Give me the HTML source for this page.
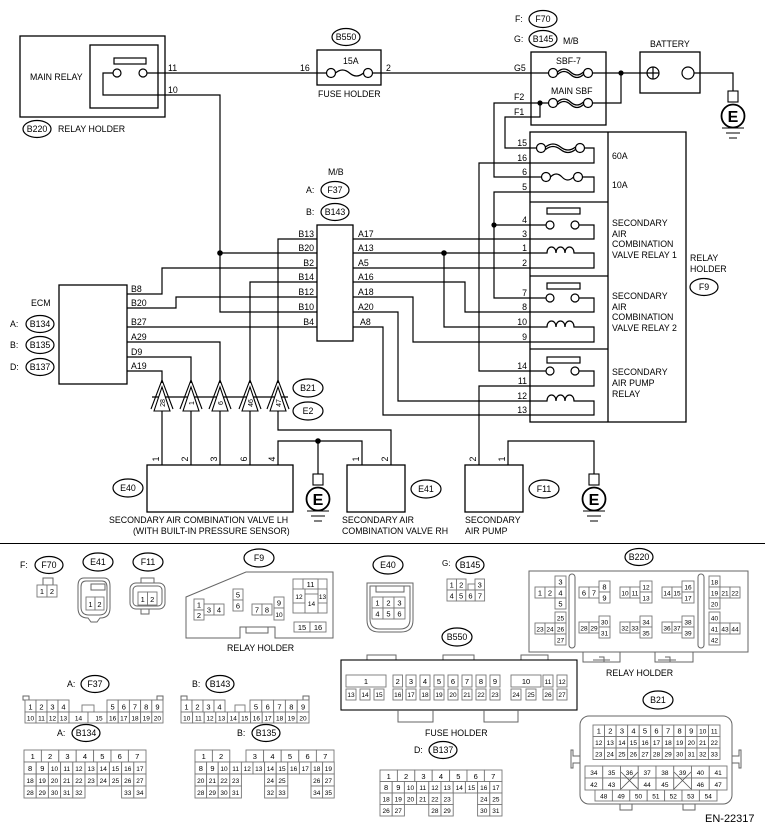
<!DOCTYPE html>
<html><head><meta charset="utf-8"><style>
html,body{margin:0;padding:0;background:#fff}
svg{display:block}
text{font-family:"Liberation Sans",Arial,sans-serif;font-size:8.8px;fill:#000}
.w{fill:none;stroke:#000;stroke-width:1.2}
.b{fill:none;stroke:#000;stroke-width:1.3}
.c{fill:#fff;stroke:#777;stroke-width:0.9}
.o{fill:none;stroke:#666;stroke-width:1}
.n{font-size:7.5px;text-anchor:middle}
.s{font-size:6.5px;text-anchor:middle}
.e{text-anchor:end}
.m{text-anchor:middle}
</style></head><body>
<svg width="765" height="830" viewBox="0 0 765 830" xmlns="http://www.w3.org/2000/svg">
<rect width="765" height="830" fill="#fff"/>
<defs>
<g id="gnd"><rect x="-5" y="0" width="10" height="11" fill="#fff" stroke="#000" stroke-width="1.1"/><circle cx="0" cy="25" r="11.5" fill="#fff" stroke="#000" stroke-width="1.8"/><path d="M-11 37H11M-7 42H7M-4 47H4" stroke="#000" stroke-width="1.1"/></g>
<g id="tri"><path d="M-8 411L0 387L8 411Z" fill="#fff" stroke="#000" stroke-width="1.1"/><path d="M-11 409L0 380L11 409" fill="none" stroke="#000" stroke-width="1.1"/></g>
</defs>

<!-- MAIN RELAY -->
<rect class="b" x="20" y="36" width="145" height="81"/>
<rect class="b" x="90" y="45" width="68" height="63"/>
<rect class="w" x="114" y="58" width="32" height="6"/>
<circle class="w" cx="117" cy="73" r="4" fill="#fff"/><circle class="w" cx="143" cy="73" r="4"/>
<text x="30" y="80">MAIN RELAY</text>
<text x="168" y="71">11</text><text x="168" y="93">10</text>
<ellipse class="w" cx="37" cy="129" rx="14" ry="8.5"/><text x="37" y="132" class="m">B220</text>
<text x="58" y="132">RELAY HOLDER</text>

<!-- fuse holder -->
<rect class="b" x="317" y="50" width="64" height="35"/>
<ellipse class="w" cx="346" cy="37" rx="14" ry="8.5"/><text x="346" y="40" class="m">B550</text>
<text x="343" y="64">15A</text><text x="300" y="71">16</text><text x="386" y="71">2</text>
<text x="318" y="97">FUSE HOLDER</text>
<circle class="w" cx="331" cy="73" r="4.5"/><circle class="w" cx="368" cy="73" r="4.5"/>
<path class="w" d="M335.5 73q7 -6 14 0t14 0"/>

<path class="w" d="M147 73H326.5M372.5 73H548.5"/>
<path class="w" d="M113 73H103V95H220V312H317"/>

<!-- M/B F70 -->
<text x="515" y="22">F:</text><ellipse class="w" cx="543" cy="19" rx="14" ry="8.5"/><text x="543" y="22" class="m">F70</text>
<text x="514" y="42">G:</text><ellipse class="w" cx="543" cy="39" rx="14" ry="8.5"/><text x="543" y="42" class="m">B145</text>
<text x="563" y="44">M/B</text>
<rect class="b" x="531" y="52" width="75" height="73"/>
<text x="556" y="64">SBF-7</text><text x="551" y="94">MAIN SBF</text>
<text x="514" y="71">G5</text><text x="514" y="100">F2</text><text x="514" y="115">F1</text>
<circle class="w" cx="553" cy="73" r="4.5"/><circle class="w" cx="588" cy="73" r="4.5"/>
<path class="w" d="M557.5 72q6.5 -6 13 0t13 0M557.5 74.5q6.5 -6 13 0t13 0"/>
<circle class="w" cx="553" cy="103" r="4.5"/><circle class="w" cx="588" cy="103" r="4.5"/>
<path class="w" d="M557.5 102q6.5 -6 13 0t13 0M557.5 104.5q6.5 -6 13 0t13 0"/>
<path class="w" d="M592.5 73H647M621 73V103H592.5"/>
<circle cx="621" cy="73" r="2.6"/><circle cx="540" cy="103" r="2.6"/>
<path class="w" d="M548.5 103H494V177H541.5M540 103V117H505V148H536.5"/>

<!-- battery -->
<text x="650" y="47">BATTERY</text>
<rect class="b" x="640" y="52" width="60" height="41"/>
<circle class="w" cx="653" cy="73" r="6"/><path class="w" d="M647 73H659M653 67V79"/>
<circle class="w" cx="688" cy="73" r="6"/>
<path class="w" d="M694 73H733V91"/>
<use href="#gnd" x="733" y="91"/><text x="733" y="122" class="m" style="font-size:16px;font-weight:bold">E</text>

<!-- relay holder -->
<rect class="b" x="530" y="132" width="156" height="290"/>
<path class="b" d="M608 132V422M530 202H608M530 276H608M530 349H608"/>
<text x="527" y="146" class="e">15</text><text x="527" y="161" class="e">16</text><text x="527" y="175" class="e">6</text><text x="527" y="190" class="e">5</text>
<text x="527" y="223" class="e">4</text><text x="527" y="237" class="e">3</text><text x="527" y="251" class="e">1</text><text x="527" y="266" class="e">2</text>
<text x="527" y="296" class="e">7</text><text x="527" y="310" class="e">8</text><text x="527" y="325" class="e">10</text><text x="527" y="340" class="e">9</text>
<text x="527" y="369" class="e">14</text><text x="527" y="384" class="e">11</text><text x="527" y="399" class="e">12</text><text x="527" y="413" class="e">13</text>
<circle class="w" cx="541" cy="148" r="4.5"/><circle class="w" cx="580" cy="148" r="4.5"/>
<path class="w" d="M545.5 147q7.5 -6 15 0t15 0M545.5 149.5q7.5 -6 15 0t15 0"/>
<path class="w" d="M584.5 148H594V163H479V371H546"/>
<circle class="w" cx="546" cy="177" r="4.5"/><circle class="w" cx="578" cy="177" r="4.5"/>
<path class="w" d="M550.5 177q5.75 -6 11.5 0t11.5 0"/>
<path class="w" d="M582.5 177H594V192H494V298H546"/>
<circle cx="494" cy="225" r="2.6"/>
<path class="w" d="M494 225H546"/>
<text x="612" y="159">60A</text><text x="612" y="188">10A</text>
<rect class="w" x="547" y="208" width="33" height="6"/>
<circle class="w" cx="550" cy="225" r="4"/><circle class="w" cx="575" cy="225" r="4"/>
<path class="w" d="M579 225H594V239H353"/>
<path class="w" d="M530 253H547c0 -8 9 -8 9 0c0 -8 9 -8 9 0c0 -8 9 -8 9 0H594V268H353"/>
<text x="612" y="226">SECONDARY</text><text x="612" y="237">AIR</text><text x="612" y="247">COMBINATION</text><text x="612" y="258">VALVE RELAY 1</text>
<rect class="w" x="547" y="283" width="33" height="6"/>
<circle class="w" cx="550" cy="298" r="4"/><circle class="w" cx="575" cy="298" r="4"/>
<path class="w" d="M579 298H594V312H530"/>
<path class="w" d="M530 327H547c0 -8 9 -8 9 0c0 -8 9 -8 9 0c0 -8 9 -8 9 0H594V342H530"/>
<text x="612" y="299">SECONDARY</text><text x="612" y="310">AIR</text><text x="612" y="320">COMBINATION</text><text x="612" y="331">VALVE RELAY 2</text>
<rect class="w" x="547" y="357" width="33" height="6"/>
<circle class="w" cx="550" cy="371" r="4"/><circle class="w" cx="575" cy="371" r="4"/>
<path class="w" d="M579 371H594V386H479V465"/>
<path class="w" d="M530 401H547c0 -8 9 -8 9 0c0 -8 9 -8 9 0c0 -8 9 -8 9 0H594V415H530"/>
<text x="612" y="375">SECONDARY</text><text x="612" y="386">AIR PUMP</text><text x="612" y="397">RELAY</text>
<text x="690" y="261">RELAY</text><text x="690" y="272">HOLDER</text>
<ellipse class="w" cx="704" cy="287" rx="14" ry="8.5"/><text x="704" y="290" class="m">F9</text>

<!-- M/B F37/B143 -->
<text x="328" y="175">M/B</text>
<text x="306" y="193">A:</text><ellipse class="w" cx="335" cy="190" rx="14" ry="8.5"/><text x="335" y="193" class="m">F37</text>
<text x="306" y="215">B:</text><ellipse class="w" cx="335" cy="212" rx="14" ry="8.5"/><text x="335" y="215" class="m">B143</text>
<rect class="b" x="317" y="225" width="36" height="116"/>
<text x="314" y="237" class="e">B13</text><text x="314" y="251" class="e">B20</text><text x="314" y="266" class="e">B2</text><text x="314" y="280" class="e">B14</text><text x="314" y="295" class="e">B12</text><text x="314" y="310" class="e">B10</text><text x="314" y="325" class="e">B4</text>
<text x="358" y="237">A17</text><text x="358" y="251">A13</text><text x="358" y="266">A5</text><text x="358" y="280">A16</text><text x="358" y="295">A18</text><text x="358" y="310">A20</text><text x="360" y="325">A8</text>

<path class="w" d="M278 383V239H317"/>
<path class="w" d="M220 253H317M353 253H530M444 253V327H530"/>
<circle cx="220" cy="253" r="2.8"/><circle cx="444" cy="253" r="2.8"/>
<path class="w" d="M127 294H162V268H317"/>
<path class="w" d="M250 383V282H317M353 282H465V312H530"/>
<path class="w" d="M127 308H176V297H317M353 297H413V342H530"/>
<path class="w" d="M353 312H398V401H530"/>
<path class="w" d="M127 327H317M353 327H383V415H530"/>
<path class="w" d="M127 342H220V383M127 357H191V383M127 371H162V383"/>

<!-- ECM -->
<rect class="b" x="59" y="285" width="68" height="99"/>
<text x="31" y="306">ECM</text>
<text x="10" y="327">A:</text><ellipse class="w" cx="40" cy="324" rx="14" ry="8.5"/><text x="40" y="327" class="m">B134</text>
<text x="10" y="348">B:</text><ellipse class="w" cx="40" cy="345" rx="14" ry="8.5"/><text x="40" y="348" class="m">B135</text>
<text x="10" y="370">D:</text><ellipse class="w" cx="40" cy="367" rx="14" ry="8.5"/><text x="40" y="370" class="m">B137</text>
<text x="131" y="292">B8</text><text x="131" y="306">B20</text><text x="131" y="325">B27</text><text x="131" y="340">A29</text><text x="131" y="355">D9</text><text x="131" y="369">A19</text>

<!-- triangles -->
<path class="w" d="M152 397H288"/>
<use href="#tri" x="162"/><use href="#tri" x="191"/><use href="#tri" x="220"/><use href="#tri" x="250"/><use href="#tri" x="278"/>
<text transform="translate(165,403) rotate(-90)" class="m" style="font-size:7px">28</text>
<text transform="translate(194,403) rotate(-90)" class="m" style="font-size:7px">1</text>
<text transform="translate(223,403) rotate(-90)" class="m" style="font-size:7px">6</text>
<text transform="translate(253,403) rotate(-90)" class="m" style="font-size:7px">46</text>
<text transform="translate(281,403) rotate(-90)" class="m" style="font-size:7px">47</text>
<ellipse class="w" cx="308" cy="388" rx="15" ry="9"/><text x="308" y="391" class="m">B21</text>
<ellipse class="w" cx="308" cy="411" rx="15" ry="9"/><text x="308" y="414" class="m">E2</text>
<path class="w" d="M162 411V465M191 411V465M220 411V465M250 411V465M278 411V430H391V465"/>
<path class="w" d="M278 465V441H362V465M318 441V474"/>
<circle cx="318" cy="441" r="2.8"/>
<path class="w" d="M508 465V441H594V474"/>

<rect class="b" x="147" y="465" width="146" height="47"/>
<rect class="b" x="347" y="465" width="58" height="47"/>
<rect class="b" x="465" y="465" width="58" height="47"/>
<g style="font-size:7px">
<text transform="translate(159,459) rotate(-90)" class="m">1</text>
<text transform="translate(188,459) rotate(-90)" class="m">2</text>
<text transform="translate(217,459) rotate(-90)" class="m">3</text>
<text transform="translate(247,459) rotate(-90)" class="m">6</text>
<text transform="translate(275,459) rotate(-90)" class="m">4</text>
<text transform="translate(359,459) rotate(-90)" class="m">1</text>
<text transform="translate(388,459) rotate(-90)" class="m">2</text>
<text transform="translate(476,459) rotate(-90)" class="m">2</text>
<text transform="translate(505,459) rotate(-90)" class="m">1</text>
</g>
<ellipse class="w" cx="128" cy="488" rx="15" ry="9"/><text x="128" y="491" class="m">E40</text>
<ellipse class="w" cx="426" cy="489" rx="15" ry="9"/><text x="426" y="492" class="m">E41</text>
<ellipse class="w" cx="544" cy="489" rx="15" ry="9"/><text x="544" y="492" class="m">F11</text>
<use href="#gnd" x="318" y="474"/><text x="318" y="505" class="m" style="font-size:16px;font-weight:bold">E</text>
<use href="#gnd" x="594" y="474"/><text x="594" y="505" class="m" style="font-size:16px;font-weight:bold">E</text>
<text x="109" y="523">SECONDARY AIR COMBINATION VALVE LH</text>
<text x="133" y="534">(WITH BUILT-IN PRESSURE SENSOR)</text>
<text x="342" y="523">SECONDARY AIR</text><text x="342" y="534">COMBINATION VALVE RH</text>
<text x="465" y="523">SECONDARY</text><text x="465" y="534">AIR PUMP</text>

<path d="M0 543.5H765" stroke="#000" stroke-width="1"/>

<!-- F70 -->
<text x="20" y="568">F:</text><ellipse class="w" cx="49" cy="565" rx="14" ry="8.5"/><text x="49" y="568" class="m">F70</text>
<rect class="o" x="43" y="578" width="10" height="7"/>
<rect class="c" x="37" y="585" width="10" height="12"/><rect class="c" x="47" y="585" width="10" height="12"/>
<text x="42" y="594" class="n">1</text><text x="52" y="594" class="n">2</text>
<!-- E41 -->
<ellipse class="w" cx="98" cy="562" rx="15" ry="9"/><text x="98" y="565" class="m">E41</text>
<path class="o" d="M84 578H104Q110 578 110 586V608Q110 618 100 618L97 622H91L88 618Q78 618 78 608V586Q78 578 84 578Z"/>
<path class="o" d="M86 581H102Q107 581 107 587V607Q107 615 99 615H89Q81 615 81 607V587Q81 581 86 581Z"/>
<rect class="o" x="91" y="584" width="14" height="6"/>
<rect class="c" x="86" y="597" width="9" height="13"/><rect class="c" x="95" y="597" width="9" height="13"/>
<text x="90.5" y="607" class="n">1</text><text x="99.5" y="607" class="n">2</text>
<!-- F11 -->
<ellipse class="w" cx="148" cy="562" rx="15" ry="9"/><text x="148" y="565" class="m">F11</text>
<rect class="o" x="130" y="583" width="35" height="26" rx="6"/>
<rect class="o" x="133" y="586" width="29" height="20" rx="4"/>
<rect class="o" x="141" y="578" width="13" height="5"/><rect class="o" x="141" y="609" width="8" height="5"/>
<rect class="c" x="138" y="592" width="9.5" height="13"/><rect class="c" x="147.5" y="592" width="9.5" height="13"/>
<text x="142.7" y="602" class="n">1</text><text x="152.2" y="602" class="n">2</text>
<!-- F9 -->
<ellipse class="w" cx="259" cy="558" rx="15" ry="9"/><text x="259" y="561" class="m">F9</text>
<path class="o" d="M186 597L246 572H333V638H275V627H240V638H186Z"/>
<rect class="o" x="246" y="627" width="22" height="6"/>
<rect class="c" x="194" y="599" width="10" height="11"/><text x="199" y="607.5" class="n">1</text>
<rect class="c" x="194" y="610" width="10" height="10"/><text x="199" y="618" class="n">2</text>
<rect class="c" x="204" y="604" width="10" height="11"/><text x="209" y="612.5" class="n">3</text>
<rect class="c" x="214" y="604" width="10" height="11"/><text x="219" y="612.5" class="n">4</text>
<rect class="c" x="233" y="589" width="10" height="11"/><text x="238" y="597.5" class="n">5</text>
<rect class="c" x="233" y="600" width="10" height="11"/><text x="238" y="608.5" class="n">6</text>
<rect class="c" x="252" y="604" width="10" height="11"/><text x="257" y="612.5" class="n">7</text>
<rect class="c" x="262" y="604" width="10" height="11"/><text x="267" y="612.5" class="n">8</text>
<rect class="c" x="274" y="597" width="10" height="11"/><text x="279" y="605.5" class="n">9</text>
<rect class="c" x="274" y="608" width="10" height="12"/><text x="279" y="617" class="s">10</text>
<rect class="c" x="293" y="579" width="34" height="34"/>
<rect class="c" x="303" y="579" width="15" height="10"/><text x="310.5" y="587" class="n">11</text>
<rect class="c" x="293" y="589" width="12" height="14"/><text x="299" y="599" class="s">12</text>
<rect class="c" x="318" y="589" width="9" height="14"/><text x="322.5" y="599" class="s">13</text>
<rect class="c" x="305" y="594" width="13" height="19"/><text x="311.5" y="606" class="s">14</text>
<rect class="c" x="294" y="622" width="16" height="10"/><text x="302" y="630" class="n">15</text>
<rect class="c" x="310" y="622" width="16" height="10"/><text x="318" y="630" class="n">16</text>
<text x="227" y="651">RELAY HOLDER</text>
<!-- E40 -->
<ellipse class="w" cx="388" cy="565" rx="15" ry="9"/><text x="388" y="568" class="m">E40</text>
<path class="o" d="M367 583H413V620Q413 632 401 632H379Q367 632 367 620Z"/>
<path class="o" d="M370 586H410V619Q410 629 400 629H380Q370 629 370 619Z"/>
<path class="o" d="M376 586V592H404V586"/>
<rect class="c" x="372" y="597" width="11" height="11"/><text x="377.5" y="605.5" class="n">1</text>
<rect class="c" x="383" y="597" width="11" height="11"/><text x="388.5" y="605.5" class="n">2</text>
<rect class="c" x="394" y="597" width="11" height="11"/><text x="399.5" y="605.5" class="n">3</text>
<rect class="c" x="372" y="608" width="11" height="11"/><text x="377.5" y="616.5" class="n">4</text>
<rect class="c" x="383" y="608" width="11" height="11"/><text x="388.5" y="616.5" class="n">5</text>
<rect class="c" x="394" y="608" width="11" height="11"/><text x="399.5" y="616.5" class="n">6</text>
<!-- B145 -->
<text x="442" y="566" style="font-size:8px">G:</text><ellipse class="w" cx="470" cy="565" rx="14" ry="8.5"/><text x="470" y="568" class="m">B145</text>
<rect class="c" x="447" y="579" width="9.5" height="11"/><text x="451.7" y="587.5" class="n">1</text>
<rect class="c" x="456.5" y="579" width="9.5" height="11"/><text x="461.2" y="587.5" class="n">2</text>
<rect class="c" x="468" y="584" width="7" height="6"/>
<rect class="c" x="475" y="579" width="9.5" height="11"/><text x="479.7" y="587.5" class="n">3</text>
<rect class="c" x="447" y="590" width="9.4" height="11"/><text x="451.7" y="598.5" class="n">4</text>
<rect class="c" x="456.4" y="590" width="9.4" height="11"/><text x="461.1" y="598.5" class="n">5</text>
<rect class="c" x="465.8" y="590" width="9.4" height="11"/><text x="470.5" y="598.5" class="n">6</text>
<rect class="c" x="475.2" y="590" width="9.4" height="11"/><text x="479.9" y="598.5" class="n">7</text>

<!-- B220 -->
<ellipse class="w" cx="639" cy="557" rx="14" ry="8.5"/><text x="639" y="560" class="m">B220</text>
<rect class="o" x="529" y="571" width="219" height="81"/>
<path class="o" d="M583 652V662H620V652M655 652V662H693V652"/>
<path class="o" d="M593 660H610M658 660H676M599 657H604V662M665 657H670V662"/>
<text x="606" y="676">RELAY HOLDER</text>
<rect class="o" x="569" y="574" width="6" height="74" rx="3"/><rect class="o" x="698" y="574" width="6" height="74" rx="3"/>
<g>
<rect class="c" x="535" y="587" width="10" height="11"/><text x="540" y="595.5" class="n">1</text>
<rect class="c" x="545" y="587" width="10" height="11"/><text x="550" y="595.5" class="n">2</text>
<rect class="c" x="555" y="576" width="11" height="11"/><text x="560.5" y="584.5" class="n">3</text>
<rect class="c" x="555" y="587" width="11" height="11"/><text x="560.5" y="595.5" class="n">4</text>
<rect class="c" x="555" y="598" width="11" height="11"/><text x="560.5" y="606.5" class="n">5</text>
<rect class="c" x="555" y="612" width="11" height="11"/><text x="560.5" y="620.5" class="s">25</text>
<rect class="c" x="535" y="623" width="10" height="11"/><text x="540" y="631.5" class="s">23</text>
<rect class="c" x="545" y="623" width="10" height="11"/><text x="550" y="631.5" class="s">24</text>
<rect class="c" x="555" y="623" width="11" height="11"/><text x="560.5" y="631.5" class="s">26</text>
<rect class="c" x="555" y="634" width="11" height="11"/><text x="560.5" y="642.5" class="s">27</text>
<rect class="c" x="579" y="587" width="10" height="11"/><text x="584" y="595.5" class="n">6</text>
<rect class="c" x="589" y="587" width="10" height="11"/><text x="594" y="595.5" class="n">7</text>
<rect class="c" x="599" y="581" width="11" height="11"/><text x="604.5" y="589.5" class="n">8</text>
<rect class="c" x="599" y="592" width="11" height="11"/><text x="604.5" y="600.5" class="n">9</text>
<rect class="c" x="579" y="622" width="10" height="11"/><text x="584" y="630.5" class="s">28</text>
<rect class="c" x="589" y="622" width="10" height="11"/><text x="594" y="630.5" class="s">29</text>
<rect class="c" x="599" y="616" width="11" height="11"/><text x="604.5" y="624.5" class="s">30</text>
<rect class="c" x="599" y="627" width="11" height="11"/><text x="604.5" y="635.5" class="s">31</text>
<rect class="c" x="620" y="587" width="10" height="11"/><text x="625" y="595.5" class="s">10</text>
<rect class="c" x="630" y="587" width="10" height="11"/><text x="635" y="595.5" class="s">11</text>
<rect class="c" x="640" y="581" width="12" height="11"/><text x="646" y="589.5" class="s">12</text>
<rect class="c" x="640" y="592" width="12" height="11"/><text x="646" y="600.5" class="s">13</text>
<rect class="c" x="620" y="622" width="10" height="11"/><text x="625" y="630.5" class="s">32</text>
<rect class="c" x="630" y="622" width="10" height="11"/><text x="635" y="630.5" class="s">33</text>
<rect class="c" x="640" y="616" width="12" height="11"/><text x="646" y="624.5" class="s">34</text>
<rect class="c" x="640" y="627" width="12" height="11"/><text x="646" y="635.5" class="s">35</text>
<rect class="c" x="662" y="587" width="10" height="11"/><text x="667" y="595.5" class="s">14</text>
<rect class="c" x="672" y="587" width="10" height="11"/><text x="677" y="595.5" class="s">15</text>
<rect class="c" x="682" y="581" width="12" height="11"/><text x="688" y="589.5" class="s">16</text>
<rect class="c" x="682" y="592" width="12" height="11"/><text x="688" y="600.5" class="s">17</text>
<rect class="c" x="662" y="622" width="10" height="11"/><text x="667" y="630.5" class="s">36</text>
<rect class="c" x="672" y="622" width="10" height="11"/><text x="677" y="630.5" class="s">37</text>
<rect class="c" x="682" y="616" width="12" height="11"/><text x="688" y="624.5" class="s">38</text>
<rect class="c" x="682" y="627" width="12" height="11"/><text x="688" y="635.5" class="s">39</text>
<rect class="c" x="709" y="576" width="11" height="11"/><text x="714.5" y="584.5" class="s">18</text>
<rect class="c" x="709" y="587" width="11" height="11"/><text x="714.5" y="595.5" class="s">19</text>
<rect class="c" x="709" y="598" width="11" height="11"/><text x="714.5" y="606.5" class="s">20</text>
<rect class="c" x="720" y="587" width="10" height="11"/><text x="725" y="595.5" class="s">21</text>
<rect class="c" x="730" y="587" width="10" height="11"/><text x="735" y="595.5" class="s">22</text>
<rect class="c" x="709" y="612" width="11" height="11"/><text x="714.5" y="620.5" class="s">40</text>
<rect class="c" x="709" y="623" width="11" height="11"/><text x="714.5" y="631.5" class="s">41</text>
<rect class="c" x="709" y="634" width="11" height="11"/><text x="714.5" y="642.5" class="s">42</text>
<rect class="c" x="720" y="623" width="10" height="11"/><text x="725" y="631.5" class="s">43</text>
<rect class="c" x="730" y="623" width="10" height="11"/><text x="735" y="631.5" class="s">44</text>
</g>

<!-- B550 -->
<ellipse class="w" cx="457" cy="637" rx="15" ry="9"/><text x="457" y="640" class="m">B550</text>
<path class="o" d="M367 660V655H396V660M443 660V655H474V660M521 660V655H548V660"/>
<rect class="b" x="341" y="660" width="236" height="50" style="stroke-width:1.1"/>
<path class="o" d="M398 710V722H433V710M484 710V722H518V710"/>
<text x="425" y="736">FUSE HOLDER</text>
<g>
<rect class="c" x="346" y="675" width="40" height="12"/><text x="366" y="684" class="n">1</text>
<rect class="c" x="393" y="675" width="9.5" height="12"/><text x="397.7" y="684" class="n">2</text>
<rect class="c" x="406" y="675" width="10" height="12"/><text x="411" y="684" class="n">3</text>
<rect class="c" x="420" y="675" width="10" height="12"/><text x="425" y="684" class="n">4</text>
<rect class="c" x="434" y="675" width="10" height="12"/><text x="439" y="684" class="n">5</text>
<rect class="c" x="448" y="675" width="10" height="12"/><text x="453" y="684" class="n">6</text>
<rect class="c" x="462" y="675" width="10" height="12"/><text x="467" y="684" class="n">7</text>
<rect class="c" x="476" y="675" width="10" height="12"/><text x="481" y="684" class="n">8</text>
<rect class="c" x="490" y="675" width="10" height="12"/><text x="495" y="684" class="n">9</text>
<rect class="c" x="511" y="675" width="30" height="12"/><text x="526" y="684" class="n">10</text>
<rect class="c" x="543" y="675" width="10" height="12"/><text x="548" y="684" class="s">11</text>
<rect class="c" x="557" y="675" width="10" height="12"/><text x="562" y="684" class="s">12</text>
<rect class="c" x="346" y="689" width="10" height="11"/><text x="351" y="697" class="s">13</text>
<rect class="c" x="360" y="689" width="10" height="11"/><text x="365" y="697" class="s">14</text>
<rect class="c" x="374" y="689" width="10" height="11"/><text x="379" y="697" class="s">15</text>
<rect class="c" x="393" y="689" width="9.5" height="11"/><text x="397.7" y="697" class="s">16</text>
<rect class="c" x="406" y="689" width="10" height="11"/><text x="411" y="697" class="s">17</text>
<rect class="c" x="420" y="689" width="10" height="11"/><text x="425" y="697" class="s">18</text>
<rect class="c" x="434" y="689" width="10" height="11"/><text x="439" y="697" class="s">19</text>
<rect class="c" x="448" y="689" width="10" height="11"/><text x="453" y="697" class="s">20</text>
<rect class="c" x="462" y="689" width="10" height="11"/><text x="467" y="697" class="s">21</text>
<rect class="c" x="476" y="689" width="10" height="11"/><text x="481" y="697" class="s">22</text>
<rect class="c" x="490" y="689" width="10" height="11"/><text x="495" y="697" class="s">23</text>
<rect class="c" x="511" y="689" width="10" height="11"/><text x="516" y="697" class="s">24</text>
<rect class="c" x="526" y="689" width="10" height="11"/><text x="531" y="697" class="s">25</text>
<rect class="c" x="543" y="689" width="10" height="11"/><text x="548" y="697" class="s">26</text>
<rect class="c" x="557" y="689" width="10" height="11"/><text x="562" y="697" class="s">27</text>
</g>

<!-- F37 -->
<text x="67" y="687">A:</text><ellipse class="w" cx="95" cy="684" rx="14" ry="8.5"/><text x="95" y="687" class="m">F37</text>
<rect class="o" x="23" y="696" width="6" height="4"/><rect class="o" x="157" y="696" width="6" height="4"/>
<g>
<rect class="c" x="25" y="700" width="11" height="12"/><text x="30.5" y="709.5" class="n">1</text>
<rect class="c" x="36" y="700" width="11" height="12"/><text x="41.5" y="709.5" class="n">2</text>
<rect class="c" x="47" y="700" width="11" height="12"/><text x="52.5" y="709.5" class="n">3</text>
<rect class="c" x="58" y="700" width="11" height="12"/><text x="63.5" y="709.5" class="n">4</text>
<rect class="c" x="82" y="705" width="12" height="7"/>
<rect class="c" x="107" y="700" width="11.2" height="12"/><text x="112.6" y="709.5" class="n">5</text>
<rect class="c" x="118.2" y="700" width="11.2" height="12"/><text x="123.8" y="709.5" class="n">6</text>
<rect class="c" x="129.4" y="700" width="11.2" height="12"/><text x="135" y="709.5" class="n">7</text>
<rect class="c" x="140.6" y="700" width="11.2" height="12"/><text x="146.2" y="709.5" class="n">8</text>
<rect class="c" x="151.8" y="700" width="11.2" height="12"/><text x="157.4" y="709.5" class="n">9</text>
<rect class="c" x="25" y="712" width="11" height="11"/><text x="30.5" y="720.5" class="s">10</text>
<rect class="c" x="36" y="712" width="11" height="11"/><text x="41.5" y="720.5" class="s">11</text>
<rect class="c" x="47" y="712" width="11" height="11"/><text x="52.5" y="720.5" class="s">12</text>
<rect class="c" x="58" y="712" width="11" height="11"/><text x="63.5" y="720.5" class="s">13</text>
<rect class="c" x="69" y="712" width="19" height="11"/><text x="78.5" y="720.5" class="s">14</text>
<rect class="c" x="88" y="712" width="19" height="11"/><text x="99" y="720.5" class="s">15</text>
<rect class="c" x="107" y="712" width="11.2" height="11"/><text x="112.6" y="720.5" class="s">16</text>
<rect class="c" x="118.2" y="712" width="11.2" height="11"/><text x="123.8" y="720.5" class="s">17</text>
<rect class="c" x="129.4" y="712" width="11.2" height="11"/><text x="135" y="720.5" class="s">18</text>
<rect class="c" x="140.6" y="712" width="11.2" height="11"/><text x="146.2" y="720.5" class="s">19</text>
<rect class="c" x="151.8" y="712" width="11.2" height="11"/><text x="157.4" y="720.5" class="s">20</text>
</g>

<!-- B143 -->
<text x="192" y="687">B:</text><ellipse class="w" cx="220" cy="684" rx="14" ry="8.5"/><text x="220" y="687" class="m">B143</text>
<rect class="o" x="181" y="696" width="6" height="4"/><rect class="o" x="303" y="696" width="6" height="4"/>
<g>
<rect class="c" x="181" y="700" width="11" height="12"/><text x="186.5" y="709.5" class="n">1</text>
<rect class="c" x="192" y="700" width="11" height="12"/><text x="197.5" y="709.5" class="n">2</text>
<rect class="c" x="203" y="700" width="11" height="12"/><text x="208.5" y="709.5" class="n">3</text>
<rect class="c" x="214" y="700" width="11" height="12"/><text x="219.5" y="709.5" class="n">4</text>
<rect class="c" x="235" y="705" width="10" height="7"/>
<rect class="c" x="250" y="700" width="11.8" height="12"/><text x="255.9" y="709.5" class="n">5</text>
<rect class="c" x="261.8" y="700" width="11.8" height="12"/><text x="267.7" y="709.5" class="n">6</text>
<rect class="c" x="273.6" y="700" width="11.8" height="12"/><text x="279.5" y="709.5" class="n">7</text>
<rect class="c" x="285.4" y="700" width="11.8" height="12"/><text x="291.3" y="709.5" class="n">8</text>
<rect class="c" x="297.2" y="700" width="11.8" height="12"/><text x="303.1" y="709.5" class="n">9</text>
<rect class="c" x="181" y="712" width="11.6" height="11"/><text x="186.8" y="720.5" class="s">10</text>
<rect class="c" x="192.6" y="712" width="11.6" height="11"/><text x="198.4" y="720.5" class="s">11</text>
<rect class="c" x="204.2" y="712" width="11.6" height="11"/><text x="210" y="720.5" class="s">12</text>
<rect class="c" x="215.8" y="712" width="11.6" height="11"/><text x="221.6" y="720.5" class="s">13</text>
<rect class="c" x="227.4" y="712" width="11.6" height="11"/><text x="233.2" y="720.5" class="s">14</text>
<rect class="c" x="239" y="712" width="11.6" height="11"/><text x="244.8" y="720.5" class="s">15</text>
<rect class="c" x="250.6" y="712" width="11.6" height="11"/><text x="256.4" y="720.5" class="s">16</text>
<rect class="c" x="262.2" y="712" width="11.6" height="11"/><text x="268" y="720.5" class="s">17</text>
<rect class="c" x="273.8" y="712" width="11.6" height="11"/><text x="279.6" y="720.5" class="s">18</text>
<rect class="c" x="285.4" y="712" width="11.6" height="11"/><text x="291.2" y="720.5" class="s">19</text>
<rect class="c" x="297" y="712" width="12" height="11"/><text x="303" y="720.5" class="s">20</text>
</g>

<!-- B134 -->
<text x="57" y="736">A:</text><ellipse class="w" cx="86" cy="733" rx="14" ry="8.5"/><text x="86" y="736" class="m">B134</text>
<g>
<rect class="c" x="24" y="750" width="17.4" height="12"/><text x="32.7" y="759" class="n">1</text>
<rect class="c" x="41.4" y="750" width="17.4" height="12"/><text x="50.1" y="759" class="n">2</text>
<rect class="c" x="58.8" y="750" width="17.4" height="12"/><text x="67.5" y="759" class="n">3</text>
<rect class="c" x="76.2" y="750" width="17.4" height="12"/><text x="84.9" y="759" class="n">4</text>
<rect class="c" x="93.6" y="750" width="17.4" height="12"/><text x="102.3" y="759" class="n">5</text>
<rect class="c" x="111" y="750" width="17.4" height="12"/><text x="119.7" y="759" class="n">6</text>
<rect class="c" x="128.4" y="750" width="17.6" height="12"/><text x="137.2" y="759" class="n">7</text>
<rect class="c" x="24" y="762" width="12.2" height="12"/><text x="30.1" y="771" class="n">8</text>
<rect class="c" x="36.2" y="762" width="12.2" height="12"/><text x="42.3" y="771" class="n">9</text>
<rect class="c" x="48.4" y="762" width="12.2" height="12"/><text x="54.5" y="771" class="s">10</text>
<rect class="c" x="60.6" y="762" width="12.2" height="12"/><text x="66.7" y="771" class="s">11</text>
<rect class="c" x="72.8" y="762" width="12.2" height="12"/><text x="78.9" y="771" class="s">12</text>
<rect class="c" x="85" y="762" width="12.2" height="12"/><text x="91.1" y="771" class="s">13</text>
<rect class="c" x="97.2" y="762" width="12.2" height="12"/><text x="103.3" y="771" class="s">14</text>
<rect class="c" x="109.4" y="762" width="12.2" height="12"/><text x="115.5" y="771" class="s">15</text>
<rect class="c" x="121.6" y="762" width="12.2" height="12"/><text x="127.7" y="771" class="s">16</text>
<rect class="c" x="133.8" y="762" width="12.2" height="12"/><text x="139.9" y="771" class="s">17</text>
<rect class="c" x="24" y="774" width="12.2" height="12"/><text x="30.1" y="783" class="s">18</text>
<rect class="c" x="36.2" y="774" width="12.2" height="12"/><text x="42.3" y="783" class="s">19</text>
<rect class="c" x="48.4" y="774" width="12.2" height="12"/><text x="54.5" y="783" class="s">20</text>
<rect class="c" x="60.6" y="774" width="12.2" height="12"/><text x="66.7" y="783" class="s">21</text>
<rect class="c" x="72.8" y="774" width="12.2" height="12"/><text x="78.9" y="783" class="s">22</text>
<rect class="c" x="85" y="774" width="12.2" height="12"/><text x="91.1" y="783" class="s">23</text>
<rect class="c" x="97.2" y="774" width="12.2" height="12"/><text x="103.3" y="783" class="s">24</text>
<rect class="c" x="109.4" y="774" width="12.2" height="12"/><text x="115.5" y="783" class="s">25</text>
<rect class="c" x="121.6" y="774" width="12.2" height="12"/><text x="127.7" y="783" class="s">26</text>
<rect class="c" x="133.8" y="774" width="12.2" height="12"/><text x="139.9" y="783" class="s">27</text>
<rect class="c" x="24" y="786" width="12.2" height="12"/><text x="30.1" y="795" class="s">28</text>
<rect class="c" x="36.2" y="786" width="12.2" height="12"/><text x="42.3" y="795" class="s">29</text>
<rect class="c" x="48.4" y="786" width="12.2" height="12"/><text x="54.5" y="795" class="s">30</text>
<rect class="c" x="60.6" y="786" width="12.2" height="12"/><text x="66.7" y="795" class="s">31</text>
<rect class="c" x="72.8" y="786" width="12.2" height="12"/><text x="78.9" y="795" class="s">32</text>
<rect class="c" x="121.6" y="786" width="12.2" height="12"/><text x="127.7" y="795" class="s">33</text>
<rect class="c" x="133.8" y="786" width="12.2" height="12"/><text x="139.9" y="795" class="s">34</text>
</g>

<!-- B135 -->
<text x="237" y="736">B:</text><ellipse class="w" cx="266" cy="733" rx="14" ry="8.5"/><text x="266" y="736" class="m">B135</text>
<g>
<rect class="c" x="195" y="750" width="17.4" height="12"/><text x="203.7" y="759" class="n">1</text>
<rect class="c" x="212.4" y="750" width="17.4" height="12"/><text x="221.1" y="759" class="n">2</text>
<rect class="c" x="246" y="750" width="17.6" height="12"/><text x="254.8" y="759" class="n">3</text>
<rect class="c" x="263.6" y="750" width="17.6" height="12"/><text x="272.4" y="759" class="n">4</text>
<rect class="c" x="281.2" y="750" width="17.6" height="12"/><text x="290" y="759" class="n">5</text>
<rect class="c" x="298.8" y="750" width="17.6" height="12"/><text x="307.6" y="759" class="n">6</text>
<rect class="c" x="316.4" y="750" width="17.6" height="12"/><text x="325.2" y="759" class="n">7</text>
<rect class="c" x="195" y="762" width="11.6" height="12"/><text x="200.8" y="771" class="n">8</text>
<rect class="c" x="206.6" y="762" width="11.6" height="12"/><text x="212.4" y="771" class="n">9</text>
<rect class="c" x="218.2" y="762" width="11.6" height="12"/><text x="224" y="771" class="s">10</text>
<rect class="c" x="229.8" y="762" width="11.6" height="12"/><text x="235.6" y="771" class="s">11</text>
<rect class="c" x="241.4" y="762" width="11.6" height="12"/><text x="247.2" y="771" class="s">12</text>
<rect class="c" x="253" y="762" width="11.6" height="12"/><text x="258.8" y="771" class="s">13</text>
<rect class="c" x="264.6" y="762" width="11.6" height="12"/><text x="270.4" y="771" class="s">14</text>
<rect class="c" x="276.2" y="762" width="11.6" height="12"/><text x="282" y="771" class="s">15</text>
<rect class="c" x="287.8" y="762" width="11.6" height="12"/><text x="293.6" y="771" class="s">16</text>
<rect class="c" x="299.4" y="762" width="11.6" height="12"/><text x="305.2" y="771" class="s">17</text>
<rect class="c" x="311" y="762" width="11.6" height="12"/><text x="316.8" y="771" class="s">18</text>
<rect class="c" x="322.6" y="762" width="11.6" height="12"/><text x="328.4" y="771" class="s">19</text>
<rect class="c" x="195" y="774" width="11.6" height="12"/><text x="200.8" y="783" class="s">20</text>
<rect class="c" x="206.6" y="774" width="11.6" height="12"/><text x="212.4" y="783" class="s">21</text>
<rect class="c" x="218.2" y="774" width="11.6" height="12"/><text x="224" y="783" class="s">22</text>
<rect class="c" x="229.8" y="774" width="11.6" height="12"/><text x="235.6" y="783" class="s">23</text>
<rect class="c" x="264.6" y="774" width="11.6" height="12"/><text x="270.4" y="783" class="s">24</text>
<rect class="c" x="276.2" y="774" width="11.6" height="12"/><text x="282" y="783" class="s">25</text>
<rect class="c" x="311" y="774" width="11.6" height="12"/><text x="316.8" y="783" class="s">26</text>
<rect class="c" x="322.6" y="774" width="11.6" height="12"/><text x="328.4" y="783" class="s">27</text>
<rect class="c" x="195" y="786" width="11.6" height="12"/><text x="200.8" y="795" class="s">28</text>
<rect class="c" x="206.6" y="786" width="11.6" height="12"/><text x="212.4" y="795" class="s">29</text>
<rect class="c" x="218.2" y="786" width="11.6" height="12"/><text x="224" y="795" class="s">30</text>
<rect class="c" x="229.8" y="786" width="11.6" height="12"/><text x="235.6" y="795" class="s">31</text>
<rect class="c" x="264.6" y="786" width="11.6" height="12"/><text x="270.4" y="795" class="s">32</text>
<rect class="c" x="276.2" y="786" width="11.6" height="12"/><text x="282" y="795" class="s">33</text>
<rect class="c" x="311" y="786" width="11.6" height="12"/><text x="316.8" y="795" class="s">34</text>
<rect class="c" x="322.6" y="786" width="11.6" height="12"/><text x="328.4" y="795" class="s">35</text>
</g>

<!-- B137 -->
<text x="414" y="753">D:</text><ellipse class="w" cx="443" cy="750" rx="14" ry="8.5"/><text x="443" y="753" class="m">B137</text>
<g>
<rect class="c" x="380" y="770" width="17.4" height="11.5"/><text x="388.7" y="779" class="n">1</text>
<rect class="c" x="397.4" y="770" width="17.4" height="11.5"/><text x="406.1" y="779" class="n">2</text>
<rect class="c" x="414.8" y="770" width="17.4" height="11.5"/><text x="423.5" y="779" class="n">3</text>
<rect class="c" x="432.2" y="770" width="17.4" height="11.5"/><text x="440.9" y="779" class="n">4</text>
<rect class="c" x="449.6" y="770" width="17.4" height="11.5"/><text x="458.3" y="779" class="n">5</text>
<rect class="c" x="467" y="770" width="17.4" height="11.5"/><text x="475.7" y="779" class="n">6</text>
<rect class="c" x="484.4" y="770" width="17.6" height="11.5"/><text x="493.2" y="779" class="n">7</text>
<rect class="c" x="380" y="781.5" width="12.2" height="11.5"/><text x="386.1" y="790" class="n">8</text>
<rect class="c" x="392.2" y="781.5" width="12.2" height="11.5"/><text x="398.3" y="790" class="n">9</text>
<rect class="c" x="404.4" y="781.5" width="12.2" height="11.5"/><text x="410.5" y="790" class="s">10</text>
<rect class="c" x="416.6" y="781.5" width="12.2" height="11.5"/><text x="422.7" y="790" class="s">11</text>
<rect class="c" x="428.8" y="781.5" width="12.2" height="11.5"/><text x="434.9" y="790" class="s">12</text>
<rect class="c" x="441" y="781.5" width="12.2" height="11.5"/><text x="447.1" y="790" class="s">13</text>
<rect class="c" x="453.2" y="781.5" width="12.2" height="11.5"/><text x="459.3" y="790" class="s">14</text>
<rect class="c" x="465.4" y="781.5" width="12.2" height="11.5"/><text x="471.5" y="790" class="s">15</text>
<rect class="c" x="477.6" y="781.5" width="12.2" height="11.5"/><text x="483.7" y="790" class="s">16</text>
<rect class="c" x="489.8" y="781.5" width="12.2" height="11.5"/><text x="495.9" y="790" class="s">17</text>
<rect class="c" x="380" y="793" width="12.2" height="11.5"/><text x="386.1" y="801.5" class="s">18</text>
<rect class="c" x="392.2" y="793" width="12.2" height="11.5"/><text x="398.3" y="801.5" class="s">19</text>
<rect class="c" x="404.4" y="793" width="12.2" height="11.5"/><text x="410.5" y="801.5" class="s">20</text>
<rect class="c" x="416.6" y="793" width="12.2" height="11.5"/><text x="422.7" y="801.5" class="s">21</text>
<rect class="c" x="428.8" y="793" width="12.2" height="11.5"/><text x="434.9" y="801.5" class="s">22</text>
<rect class="c" x="441" y="793" width="12.2" height="11.5"/><text x="447.1" y="801.5" class="s">23</text>
<rect class="c" x="477.6" y="793" width="12.2" height="11.5"/><text x="483.7" y="801.5" class="s">24</text>
<rect class="c" x="489.8" y="793" width="12.2" height="11.5"/><text x="495.9" y="801.5" class="s">25</text>
<rect class="c" x="380" y="804.5" width="12.2" height="11.5"/><text x="386.1" y="813" class="s">26</text>
<rect class="c" x="392.2" y="804.5" width="12.2" height="11.5"/><text x="398.3" y="813" class="s">27</text>
<rect class="c" x="428.8" y="804.5" width="12.2" height="11.5"/><text x="434.9" y="813" class="s">28</text>
<rect class="c" x="441" y="804.5" width="12.2" height="11.5"/><text x="447.1" y="813" class="s">29</text>
<rect class="c" x="477.6" y="804.5" width="12.2" height="11.5"/><text x="483.7" y="813" class="s">30</text>
<rect class="c" x="489.8" y="804.5" width="12.2" height="11.5"/><text x="495.9" y="813" class="s">31</text>
</g>

<!-- B21 -->
<ellipse class="w" cx="658" cy="700" rx="15" ry="9"/><text x="658" y="703" class="m">B21</text>
<rect class="o" x="580" y="716" width="152" height="88" rx="9"/>
<path class="o" d="M580 756H573V750H571V768H573V763H580M732 756H739V750H741V768H739V763H732M620 804V810H632V804M683 804V810H695V804"/>
<g>
<rect class="c" x="593" y="725" width="11.55" height="11.5"/><text x="598.8" y="733.5" class="n">1</text>
<rect class="c" x="604.55" y="725" width="11.55" height="11.5"/><text x="610.3" y="733.5" class="n">2</text>
<rect class="c" x="616.1" y="725" width="11.55" height="11.5"/><text x="621.9" y="733.5" class="n">3</text>
<rect class="c" x="627.65" y="725" width="11.55" height="11.5"/><text x="633.4" y="733.5" class="n">4</text>
<rect class="c" x="639.2" y="725" width="11.55" height="11.5"/><text x="645" y="733.5" class="n">5</text>
<rect class="c" x="650.75" y="725" width="11.55" height="11.5"/><text x="656.5" y="733.5" class="n">6</text>
<rect class="c" x="662.3" y="725" width="11.55" height="11.5"/><text x="668.1" y="733.5" class="n">7</text>
<rect class="c" x="673.85" y="725" width="11.55" height="11.5"/><text x="679.6" y="733.5" class="n">8</text>
<rect class="c" x="685.4" y="725" width="11.55" height="11.5"/><text x="691.2" y="733.5" class="n">9</text>
<rect class="c" x="696.95" y="725" width="11.55" height="11.5"/><text x="702.7" y="733.5" class="s">10</text>
<rect class="c" x="708.5" y="725" width="11.5" height="11.5"/><text x="714.3" y="733.5" class="s">11</text>
<rect class="c" x="593" y="736.5" width="11.55" height="11.5"/><text x="598.8" y="745" class="s">12</text>
<rect class="c" x="604.55" y="736.5" width="11.55" height="11.5"/><text x="610.3" y="745" class="s">13</text>
<rect class="c" x="616.1" y="736.5" width="11.55" height="11.5"/><text x="621.9" y="745" class="s">14</text>
<rect class="c" x="627.65" y="736.5" width="11.55" height="11.5"/><text x="633.4" y="745" class="s">15</text>
<rect class="c" x="639.2" y="736.5" width="11.55" height="11.5"/><text x="645" y="745" class="s">16</text>
<rect class="c" x="650.75" y="736.5" width="11.55" height="11.5"/><text x="656.5" y="745" class="s">17</text>
<rect class="c" x="662.3" y="736.5" width="11.55" height="11.5"/><text x="668.1" y="745" class="s">18</text>
<rect class="c" x="673.85" y="736.5" width="11.55" height="11.5"/><text x="679.6" y="745" class="s">19</text>
<rect class="c" x="685.4" y="736.5" width="11.55" height="11.5"/><text x="691.2" y="745" class="s">20</text>
<rect class="c" x="696.95" y="736.5" width="11.55" height="11.5"/><text x="702.7" y="745" class="s">21</text>
<rect class="c" x="708.5" y="736.5" width="11.5" height="11.5"/><text x="714.3" y="745" class="s">22</text>
<rect class="c" x="593" y="748" width="11.55" height="11.5"/><text x="598.8" y="756.5" class="s">23</text>
<rect class="c" x="604.55" y="748" width="11.55" height="11.5"/><text x="610.3" y="756.5" class="s">24</text>
<rect class="c" x="616.1" y="748" width="11.55" height="11.5"/><text x="621.9" y="756.5" class="s">25</text>
<rect class="c" x="627.65" y="748" width="11.55" height="11.5"/><text x="633.4" y="756.5" class="s">26</text>
<rect class="c" x="639.2" y="748" width="11.55" height="11.5"/><text x="645" y="756.5" class="s">27</text>
<rect class="c" x="650.75" y="748" width="11.55" height="11.5"/><text x="656.5" y="756.5" class="s">28</text>
<rect class="c" x="662.3" y="748" width="11.55" height="11.5"/><text x="668.1" y="756.5" class="s">29</text>
<rect class="c" x="673.85" y="748" width="11.55" height="11.5"/><text x="679.6" y="756.5" class="s">30</text>
<rect class="c" x="685.4" y="748" width="11.55" height="11.5"/><text x="691.2" y="756.5" class="s">31</text>
<rect class="c" x="696.95" y="748" width="11.55" height="11.5"/><text x="702.7" y="756.5" class="s">32</text>
<rect class="c" x="708.5" y="748" width="11.5" height="11.5"/><text x="714.3" y="756.5" class="s">33</text>
<rect class="c" x="585" y="766" width="17.75" height="12"/><text x="593.9" y="775" class="s">34</text>
<rect class="c" x="602.75" y="766" width="17.75" height="12"/><text x="611.6" y="775" class="s">35</text>
<rect class="c" x="620.5" y="766" width="17.75" height="12"/><text x="629.4" y="775" class="s">36</text>
<rect class="c" x="638.25" y="766" width="17.75" height="12"/><text x="647.1" y="775" class="s">37</text>
<rect class="c" x="656" y="766" width="17.75" height="12"/><text x="664.9" y="775" class="s">38</text>
<rect class="c" x="673.75" y="766" width="17.75" height="12"/><text x="682.6" y="775" class="s">39</text>
<rect class="c" x="691.5" y="766" width="17.75" height="12"/><text x="700.4" y="775" class="s">40</text>
<rect class="c" x="709.25" y="766" width="17.75" height="12"/><text x="718.1" y="775" class="s">41</text>
<rect class="c" x="585" y="778" width="17.75" height="12"/><text x="593.9" y="787" class="s">42</text>
<rect class="c" x="602.75" y="778" width="17.75" height="12"/><text x="611.6" y="787" class="s">43</text>
<rect class="c" x="620.5" y="778" width="17.75" height="12"/><path d="M621 772L638 789M638 772L621 789" stroke="#555" stroke-width="0.8"/>
<rect class="c" x="638.25" y="778" width="17.75" height="12"/><text x="647.1" y="787" class="s">44</text>
<rect class="c" x="656" y="778" width="17.75" height="12"/><text x="664.9" y="787" class="s">45</text>
<rect class="c" x="673.75" y="778" width="17.75" height="12"/><path d="M674 772L691 789M691 772L674 789" stroke="#555" stroke-width="0.8"/>
<rect class="c" x="691.5" y="778" width="17.75" height="12"/><text x="700.4" y="787" class="s">46</text>
<rect class="c" x="709.25" y="778" width="17.75" height="12"/><text x="718.1" y="787" class="s">47</text>
<rect class="c" x="595" y="790" width="17.4" height="11"/><text x="603.7" y="798.5" class="s">48</text>
<rect class="c" x="612.4" y="790" width="17.4" height="11"/><text x="621.1" y="798.5" class="s">49</text>
<rect class="c" x="629.8" y="790" width="17.4" height="11"/><text x="638.5" y="798.5" class="s">50</text>
<rect class="c" x="647.2" y="790" width="17.4" height="11"/><text x="655.9" y="798.5" class="s">51</text>
<rect class="c" x="664.6" y="790" width="17.4" height="11"/><text x="673.3" y="798.5" class="s">52</text>
<rect class="c" x="682" y="790" width="17.4" height="11"/><text x="690.7" y="798.5" class="s">53</text>
<rect class="c" x="699.4" y="790" width="17.6" height="11"/><text x="708.2" y="798.5" class="s">54</text>
</g>
<text x="705" y="822" style="font-size:11px">EN-22317</text>
</svg>
</body></html>
